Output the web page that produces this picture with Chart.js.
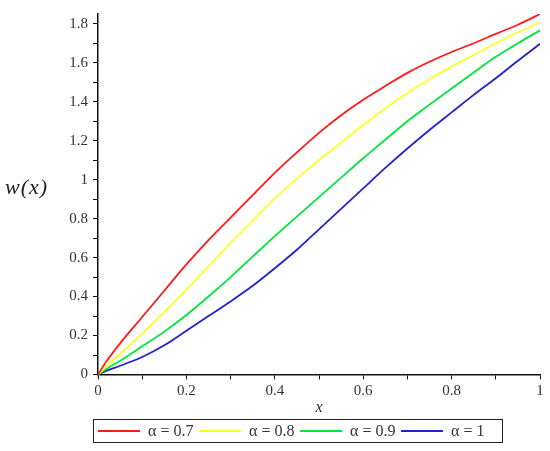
<!DOCTYPE html>
<html lang="en">
<head>
<meta charset="UTF-8">
<title>w(x)</title>
<script src="https://cdn.jsdelivr.net/npm/chart.js"></script>
<style>
body {
    margin: 0;
    background: #fff;
}
.wrap {
    position: relative;
    width: 550px;
    height: 451px;
}
.ylabel {
    position: absolute;
    left: 5px;
    top: 174px;
    font-family: 'Liberation Serif', 'Times New Roman', serif;
    font-style: italic;
    font-size: 22px;
    color: #222;
    letter-spacing: 1px;
}
.legend {
    position: absolute;
    left: 93px;
    top: 419px;
    width: 410px;
    height: 24px;
    border: 1.5px solid #222;
    display: flex;
    align-items: center;
    padding-left: 4px;
    box-sizing: border-box;
    font-family: 'Liberation Serif', 'Times New Roman', serif;
    font-size: 16px;
    color: #333;
}
.legend .item {
    display: flex;
    align-items: center;
    width: 105px;
}
.legend .swatch {
    display: inline-block;
    width: 42px;
    height: 2.5px;
    margin-right: 8px;
}
</style>
</head>
<body>
<div class="wrap">
    <canvas id="chart"></canvas>
    <div class="ylabel">w(x)</div>
    <div class="legend" id="legend"></div>
</div>
<script>
// values
const xs = [0, 0.02, 0.05, 0.1, 0.15, 0.2, 0.25, 0.3, 0.35, 0.4, 0.45, 0.5, 0.55, 0.6, 0.65, 0.7, 0.75, 0.8, 0.85, 0.9, 0.95, 1];
const red    = [0, 0.07, 0.16, 0.295, 0.43, 0.565, 0.69, 0.805, 0.92, 1.035, 1.14, 1.24, 1.33, 1.41, 1.48, 1.548, 1.605, 1.655, 1.70, 1.748, 1.795, 1.85];
const yellow = [0, 0.045, 0.105, 0.21, 0.32, 0.435, 0.555, 0.675, 0.79, 0.905, 1.005, 1.10, 1.19, 1.28, 1.365, 1.445, 1.515, 1.58, 1.64, 1.70, 1.755, 1.807];
const green  = [0, 0.03, 0.07, 0.145, 0.22, 0.305, 0.40, 0.50, 0.605, 0.71, 0.81, 0.91, 1.01, 1.11, 1.205, 1.30, 1.385, 1.468, 1.55, 1.63, 1.70, 1.766];
const blue   = [0, 0.02, 0.045, 0.09, 0.15, 0.225, 0.30, 0.375, 0.455, 0.545, 0.64, 0.745, 0.85, 0.955, 1.06, 1.16, 1.255, 1.345, 1.435, 1.52, 1.61, 1.697];

const seriesNames = ['α = 0.7', 'α = 0.8', 'α = 0.9', 'α = 1'];
const seriesColors = ['#ff1a1a', '#ffff26', '#00e63c', '#2222d0'];
const seriesData = [red, yellow, green, blue];

// tick positions (labels on every other one)
const xTicks = [0, 0.1, 0.2, 0.3, 0.4, 0.5, 0.6, 0.7, 0.8, 0.9, 1];
const yTicks = [0, 0.1, 0.2, 0.3, 0.4, 0.5, 0.6, 0.7, 0.8, 0.9, 1, 1.1, 1.2, 1.3, 1.4, 1.5, 1.6, 1.7, 1.8];
const yTop = 1.85;

const serif = "'Liberation Serif', 'Times New Roman', serif";

function pairs(ys) {
    return xs.map((x, i) => ({ x: x, y: ys[i] }));
}

function labelEveryOther(value) {
    const v = Math.round(value * 10);
    return v % 2 === 0 ? String(v / 10) : '';
}

const tickFont = { family: serif, size: 15 };

new Chart(document.getElementById('chart'), {
    type: 'line',
    data: {
        datasets: seriesData.map((ys, i) => ({
            label: seriesNames[i],
            data: pairs(ys),
            borderColor: seriesColors[i],
            backgroundColor: seriesColors[i],
            borderWidth: 1.8,
            pointRadius: 0,
            cubicInterpolationMode: 'monotone',
            fill: false
        }))
    },
    options: {
        responsive: true,
        maintainAspectRatio: false,
        animation: false,
        layout: { padding: { left: 38, right: 10, top: 14, bottom: 32 } },
        plugins: {
            legend: { display: false },
            tooltip: { enabled: false }
        },
        scales: {
            x: {
                type: 'linear',
                min: 0,
                max: 1,
                afterFit: (scale) => { scale.height = 44.5; },
                afterBuildTicks: (scale) => {
                    scale.ticks = xTicks.map(v => ({ value: v }));
                },
                ticks: {
                    autoSkip: false,
                    maxRotation: 0,
                    padding: 3,
                    color: '#333',
                    font: tickFont,
                    callback: labelEveryOther
                },
                grid: { drawOnChartArea: false, drawTicks: true, tickLength: 5, color: '#111' },
                border: { display: true, color: '#111', width: 1.5 },
                title: {
                    display: true,
                    text: 'x',
                    color: '#333',
                    font: { family: serif, size: 16, style: 'italic' },
                    padding: { top: 0, bottom: 2 }
                }
            },
            y: {
                min: 0,
                max: yTop,
                afterFit: (scale) => { scale.width = 60; },
                afterBuildTicks: (scale) => {
                    scale.ticks = yTicks.map(v => ({ value: v }));
                },
                ticks: {
                    autoSkip: false,
                    padding: 5,
                    color: '#333',
                    font: tickFont,
                    callback: labelEveryOther
                },
                grid: { drawOnChartArea: false, drawTicks: true, tickLength: 5, color: '#111' },
                border: { display: true, color: '#111', width: 1.5 }
            }
        }
    }
});

// legend box under the plot
const legend = document.getElementById('legend');
seriesNames.forEach((name, i) => {
    const item = document.createElement('span');
    item.className = 'item';
    const sw = document.createElement('span');
    sw.className = 'swatch';
    sw.style.background = seriesColors[i];
    item.appendChild(sw);
    item.appendChild(document.createTextNode(name));
    legend.appendChild(item);
});
</script>
</body>
</html>
